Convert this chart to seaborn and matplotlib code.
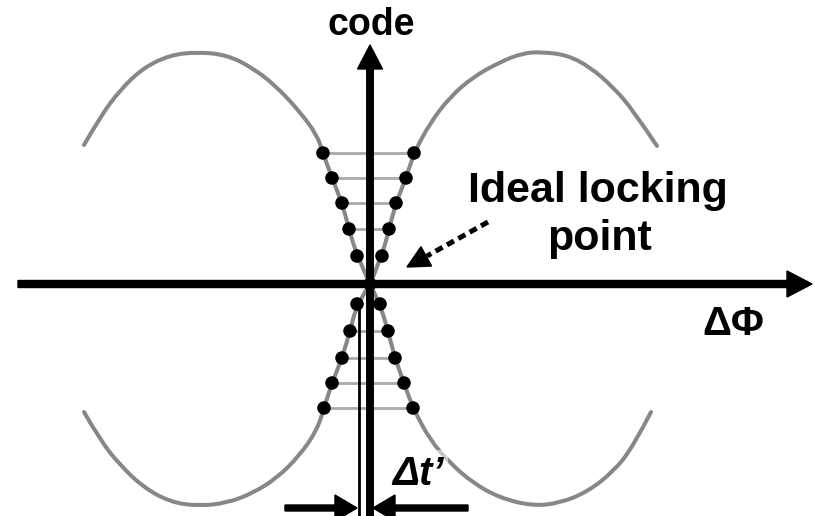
import matplotlib
matplotlib.use("Agg")
import matplotlib.pyplot as plt
from matplotlib.path import Path
from matplotlib.patches import PathPatch
import seaborn as sns
import pandas as pd

# Coordinates are in drawing units (1 unit = 1 pixel), origin at the axes crossing.

# Outer arcs of the phase-detector transfer curve
upper_left_arc_x = [-286, -270, -250, -227, -200, -172, -143, -117, -93, -70, -53]
upper_left_arc_y = [139, 167, 194, 216, 229, 232, 229, 216, 197, 172, 149]
upper_right_arc_x = [287, 263, 243, 220, 197, 172, 153, 130, 103, 80, 60]
upper_right_arc_y = [138, 174, 197, 217, 229, 232, 231, 222, 207, 187, 161]
lower_left_arc_x = [-286, -270, -250, -227, -200, -172, -143, -117, -93, -70, -53]
lower_left_arc_y = [-128, -156, -181, -203, -218, -222, -219, -209, -194, -171, -146]
lower_right_arc_x = [281, 263, 243, 217, 190, 163, 130, 103, 80, 60]
lower_right_arc_y = [-128, -163, -188, -208, -219, -222, -214, -199, -179, -156]

# Quantized code levels (dots) near the locking point
upper_levels = [131, 106, 81, 55, 28]
upper_left_x = [-47, -38, -28, -21, -13]
upper_right_x = [44, 36, 26, 19, 12]
lower_levels = [-124, -99, -74, -47, -20]
lower_left_x = [-46, -38, -28, -20, -13]
lower_right_x = [43, 34, 25, 18, 10]
lock_point = (0, 0)

# Offset reference line and delta-t' marker
offset_x = -11
offset_top = -23
dt_arrow_y = -224

curve_color = "#878787"
level_color = "#a9a9a9"

sns.set_theme(style="white")
plt.rcParams["font.family"] = ["Liberation Sans", "DejaVu Sans"]

fig = plt.figure(figsize=(8.15, 5.16), dpi=100)
ax = fig.add_axes([0, 0, 1, 1])
ax.set_xlim(-370, 445)
ax.set_ylim(-232, 284)
ax.set_axis_off()


def smooth_branch(xs, ys):
    """Quadratic B-spline path using the given points as control points."""
    pts = list(zip(xs, ys))
    verts = [pts[0]]
    codes = [Path.MOVETO]
    for i in range(1, len(pts) - 2):
        mid = ((pts[i][0] + pts[i + 1][0]) / 2, (pts[i][1] + pts[i + 1][1]) / 2)
        verts += [pts[i], mid]
        codes += [Path.CURVE3, Path.CURVE3]
    verts += [pts[-2], pts[-1]]
    codes += [Path.CURVE3, Path.CURVE3]
    return Path(verts, codes)


# Full branches: outer arc + dots + locking point
branches = [
    (upper_left_arc_x + upper_left_x + [lock_point[0]],
     upper_left_arc_y + upper_levels + [lock_point[1]]),
    (upper_right_arc_x + upper_right_x + [lock_point[0]],
     upper_right_arc_y + upper_levels + [lock_point[1]]),
    (lower_left_arc_x + lower_left_x + [lock_point[0]],
     lower_left_arc_y + lower_levels + [lock_point[1]]),
    (lower_right_arc_x + lower_right_x + [lock_point[0]],
     lower_right_arc_y + lower_levels + [lock_point[1]]),
]
for bx, by in branches:
    ax.add_patch(PathPatch(smooth_branch(bx, by), fc="none", ec=curve_color,
                           lw=2.9, capstyle="round", joinstyle="round", zorder=2))

# Horizontal connectors between code levels (innermost pair left open)
ax.hlines(upper_levels[:-1], upper_left_x[:-1], upper_right_x[:-1],
          color=level_color, lw=2.0, zorder=1)
ax.hlines(lower_levels[:-1], lower_left_x[:-1], lower_right_x[:-1],
          color=level_color, lw=2.0, zorder=1)

# Offset line
ax.plot([offset_x, offset_x], [offset_top, -232], color="black", lw=2.0, zorder=3)

# Axes with arrow heads
ax.arrow(-352, 0, 794, 0, width=7, head_width=26, head_length=25,
         length_includes_head=True, color="black", zorder=4)
ax.arrow(0, -240, 0, 479, width=6.5, head_width=25, head_length=24,
         length_includes_head=True, color="black", zorder=4)

# Dots
dots = pd.DataFrame({
    "x": upper_left_x + upper_right_x + lower_left_x + lower_right_x + [lock_point[0]],
    "y": upper_levels * 2 + lower_levels * 2 + [lock_point[1]],
})
sns.scatterplot(data=dots, x="x", y="y", s=95, color="black", edgecolor="none",
                ax=ax, zorder=6)

# Dashed pointer to the ideal locking point
ax.plot([118, 57], [62, 28], color="black", lw=3.6, linestyle=(0, (1.6, 1.0)),
        dash_capstyle="butt", zorder=4)
ax.arrow(57, 28, -20, -11, width=0.1, head_width=22, head_length=22,
         length_includes_head=True, color="black", zorder=4)

# Delta t' marker arrows
ax.arrow(-85, dt_arrow_y, 72, 0, width=6, head_width=26, head_length=22,
         length_includes_head=True, color="black", zorder=7)
ax.arrow(98, dt_arrow_y, -95, 0, width=6, head_width=26, head_length=22,
         length_includes_head=True, color="black", zorder=7)

# Labels
ax.text(1, 249, "code", ha="center", va="baseline", fontsize=27,
        fontweight="bold", color="black", zorder=8)
ax.text(228, 82, "Ideal locking", ha="center", va="baseline", fontsize=31,
        fontweight="bold", color="black", zorder=8)
ax.text(230, 34, "point", ha="center", va="baseline", fontsize=31,
        fontweight="bold", color="black", zorder=8)
ax.text(363, -51, "ΔΦ", ha="center", va="baseline", fontsize=29,
        fontweight="bold", color="black", zorder=8)
ax.text(22, -201, "Δt’", ha="left", va="baseline", fontsize=29,
        fontweight="bold", fontstyle="italic", color="black", zorder=5,
        bbox=dict(boxstyle="square,pad=0.12", fc=(1, 1, 1, 0.55), ec="none"))

fig.savefig("out.png", dpi=100, facecolor="white")
